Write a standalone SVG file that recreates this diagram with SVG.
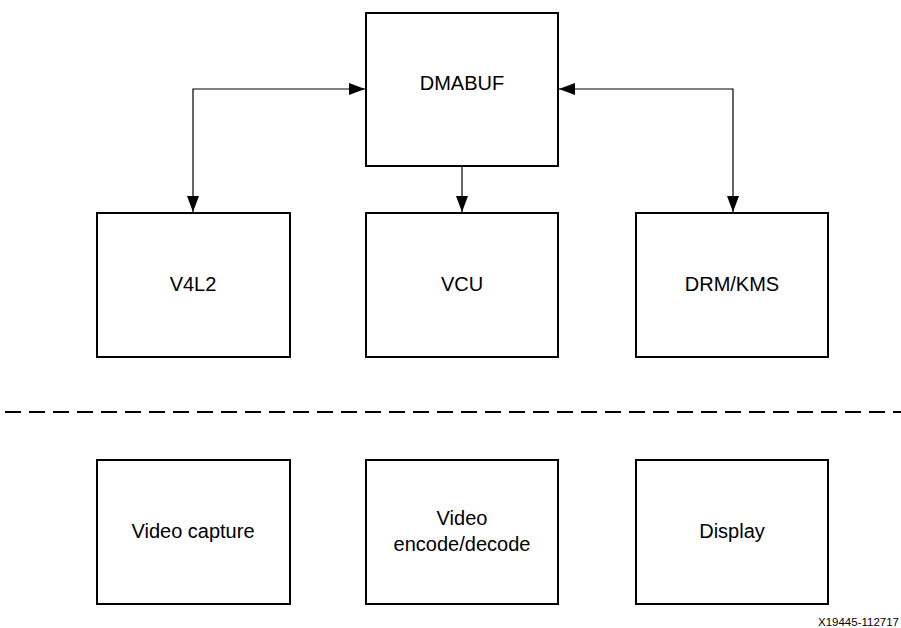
<svg xmlns="http://www.w3.org/2000/svg" width="901" height="628" viewBox="0 0 901 628">
<defs>
<style>
.box{fill:#fff;stroke:#000;stroke-width:2}
.lbl{font-family:"Liberation Sans",Arial,sans-serif;font-size:20px;fill:#000;text-anchor:middle}
.con{fill:none;stroke:#000;stroke-width:1.2}
</style>
<marker id="ah" markerWidth="16" markerHeight="12" refX="16" refY="6" orient="auto-start-reverse" markerUnits="userSpaceOnUse">
<path d="M0,0 L16,6 L0,12 Z" fill="#000"/>
</marker>
</defs>
<rect width="901" height="628" fill="#fff"/>
<g id="connectors">
<path class="con" d="M365,89 H193 V212" marker-start="url(#ah)" marker-end="url(#ah)"/>
<path class="con" d="M462,166 V212" marker-end="url(#ah)"/>
<path class="con" d="M559,89 H733 V212" marker-start="url(#ah)" marker-end="url(#ah)"/>
</g>
<g id="dmabuf"><rect class="box" x="366" y="13" width="192" height="153"/><text class="lbl" x="462" y="90">DMABUF</text></g>
<g id="v4l2"><rect class="box" x="97" y="213" width="193" height="144"/><text class="lbl" x="193" y="291">V4L2</text></g>
<g id="vcu"><rect class="box" x="366" y="213" width="192" height="144"/><text class="lbl" x="462" y="291">VCU</text></g>
<g id="drmkms"><rect class="box" x="636" y="213" width="192" height="144"/><text class="lbl" x="732" y="291">DRM/KMS</text></g>
<line x1="5" y1="412" x2="901" y2="412" stroke="#000" stroke-width="2" stroke-dasharray="16 8"/>
<g id="capture"><rect class="box" x="97" y="460" width="193" height="144"/><text class="lbl" x="193" y="538">Video capture</text></g>
<g id="encdec"><rect class="box" x="366" y="460" width="192" height="144"/><text class="lbl" x="462" y="525">Video</text><text class="lbl" x="462" y="551">encode/decode</text></g>
<g id="display"><rect class="box" x="636" y="460" width="192" height="144"/><text class="lbl" x="732" y="538">Display</text></g>
<text x="899" y="626" text-anchor="end" font-family="'Liberation Sans',Arial,sans-serif" font-size="11.5" fill="#000">X19445-112717</text>
</svg>
